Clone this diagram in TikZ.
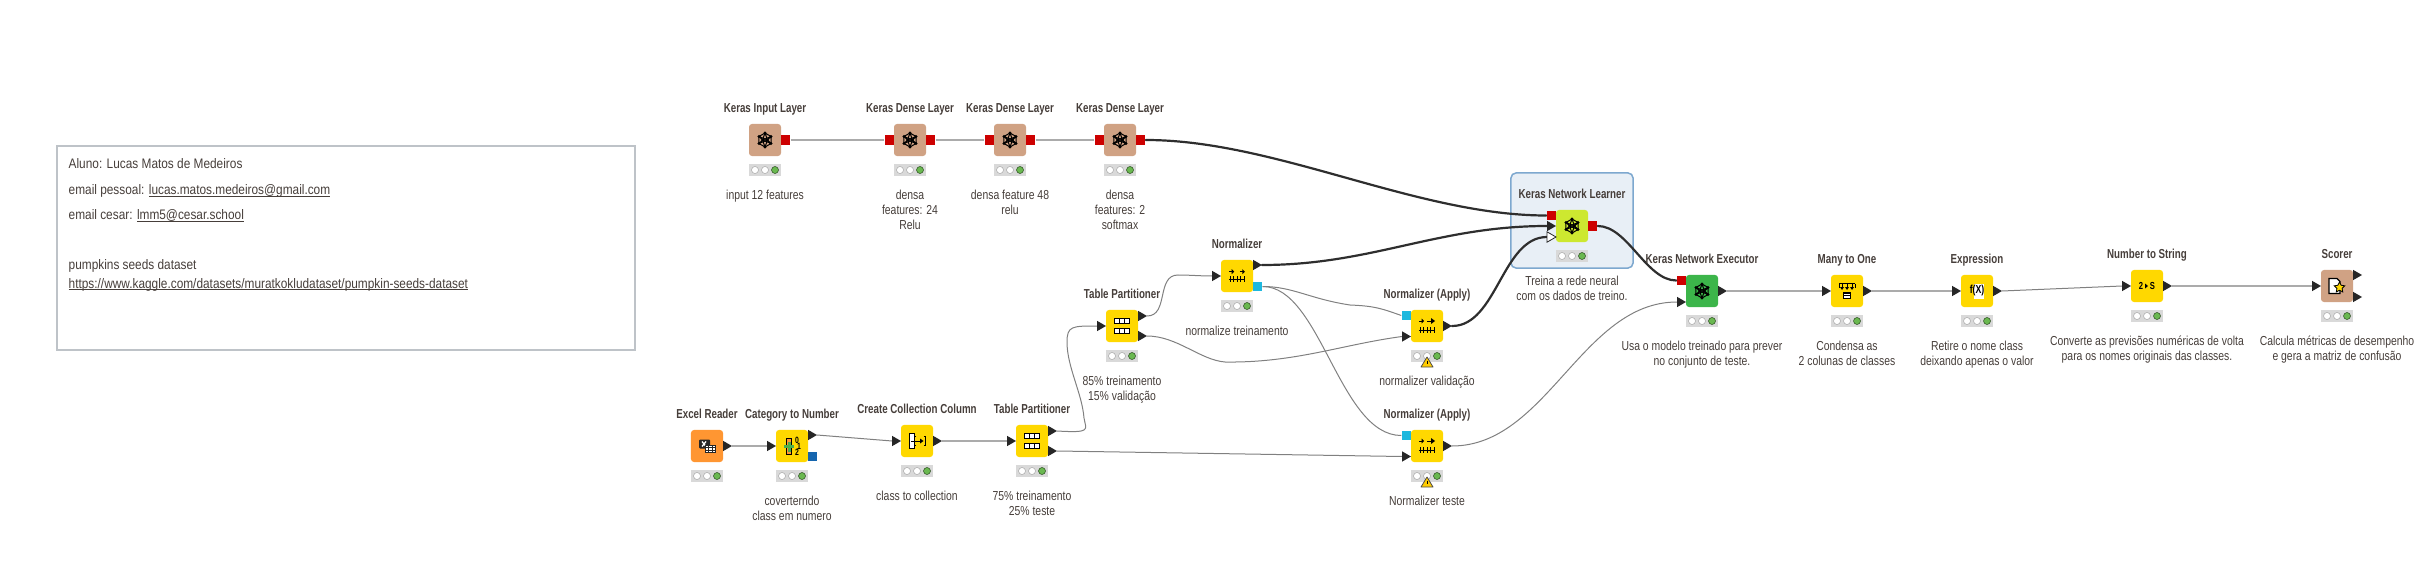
\documentclass[tikz,border=0pt]{standalone}
\usepackage{fontspec}
\setmainfont{Liberation Sans}[FakeStretch=0.8,BoldFeatures={FakeStretch=0.75}]
\newfontfamily\infofont{Liberation Sans}[FakeStretch=0.86]
\newcommand{\ulink}[1]{\setbox0\hbox{#1}\rlap{\rule[-0.4pt]{\wd0}{0.2pt}}\box0}
\usetikzlibrary{calc,backgrounds,shapes.geometric}
\definecolor{knyellow}{RGB}{255,216,0}
\definecolor{knbrown}{RGB}{208,162,132}
\definecolor{knorange}{RGB}{255,150,50}
\definecolor{knlime}{RGB}{205,232,48}
\definecolor{kngreen}{RGB}{60,181,74}
\definecolor{knred}{RGB}{205,0,0}
\definecolor{knblue}{RGB}{21,101,174}
\definecolor{kncyan}{RGB}{30,184,222}
\definecolor{kndark}{RGB}{38,38,38}
\definecolor{kntext}{RGB}{70,62,58}
\definecolor{knlamp}{RGB}{106,184,80}
\definecolor{knsel}{RGB}{232,239,246}
\definecolor{knseledge}{RGB}{125,168,207}
\definecolor{kninfoedge}{RGB}{190,195,200}
\tikzset{
  kbox/.style={rectangle, rounded corners=0.3mm, minimum size=3.2mm, inner sep=0pt},
  kyellow/.style={kbox, fill=knyellow},
  kbrown/.style ={kbox, fill=knbrown},
  korange/.style={kbox, fill=knorange},
  klime/.style  ={kbox, fill=knlime},
  kgreen/.style ={kbox, fill=kngreen},
  rport/.style={rectangle, fill=knred,  minimum size=0.9mm, inner sep=0pt},
  bport/.style={rectangle, fill=knblue, minimum size=0.9mm, inner sep=0pt},
  cport/.style={rectangle, fill=kncyan, minimum size=0.9mm, inner sep=0pt},
  dport/.style={isosceles triangle, isosceles triangle apex angle=60, fill=kndark,
                minimum height=0.9mm, minimum width=0.9mm, inner sep=0pt, outer sep=0pt,
                anchor=lower side},
  hport/.style={dport, fill=white, draw=kndark, line width=0.08mm},
  ktitle/.style={font=\fontsize{3.7}{4.27}\selectfont\bfseries, text=kntext, anchor=base, inner sep=0pt},
  knote/.style ={font=\fontsize{3.7}{4.27}\selectfont, text=kntext, align=center, anchor=north, inner sep=0pt},
  kinfo/.style ={font=\infofont\fontsize{3.92}{4.27}\selectfont, text=kntext, anchor=base west, inner sep=0pt},
  kstatus/.style={rectangle, fill=black!15, minimum width=3.2mm, minimum height=1.2mm, inner sep=0pt},
  klamp/.style={circle, draw=black!35, fill=white, line width=0.05mm, minimum size=0.7mm, inner sep=0pt},
  klampon/.style={klamp, draw=black!60!knlamp, fill=knlamp},
  kwire/.style={line width=0.16mm, black!33},
  kthin/.style={line width=0.1mm, black!50},
  kheavy/.style={line width=0.22mm, black!82, line cap=round},
  kglyph/.style={line width=0.1mm, black},
  netglyph/.pic={
    \foreach \a in {30,90,...,330} {
      \fill (\a:7) circle (1.6);
      \draw[kglyph] (\a:7) -- (\a+60:7) (\a:7) -- (-2.5,0) (\a:7) -- (2.5,0);}
    \fill (-2.5,0) circle (1.5) (2.5,0) circle (1.5);
  },
  xlsglyph/.pic={
    \fill[kndark, rounded corners=0.1mm] (-8,-6.5) rectangle (3,2.5);
    \draw[white, line width=0.13mm] (-5,-4.5) -- (-1,0.5) (-1,-4.5) -- (-5,0.5);
    \fill[white] (-1.3,-1) rectangle (8,6.7);
    \draw[kndark, line width=0.08mm] (-1.3,-1) rectangle (8,6.7) (1.8,-1) -- (1.8,6.7)
      (4.9,-1) -- (4.9,6.7) (-1.3,1.5) -- (8,1.5) (-1.3,4.1) -- (8,4.1);
  },
  catglyph/.pic={
    \draw[kglyph, fill=knorange] (-5.5,-7.5) rectangle (-0.5,8);
    \draw[line width=0.3mm, green!55!black!70] (-8,0.5) -- (2,0.5) (-3,-4.5) -- (-3,5.5);
    \node[font=\fontsize{2.6}{3}\selectfont\bfseries, inner sep=0pt] (cg0) at (5,-6) {0};
    \node[font=\fontsize{2.6}{3}\selectfont\bfseries, inner sep=0pt] (cg1) at (7,0) {1};
    \node[font=\fontsize{2.6}{3}\selectfont\bfseries, inner sep=0pt] (cg2) at (5,6) {2};
  },
  collglyph/.pic={
    \draw[kglyph, fill=white] (-7.5,-7.5) rectangle (-2.3,7.5);
    \draw[kglyph] (-1,-4.5) -- (-2.2,-4.5) -- (-2.2,4.5) -- (-1,4.5)
      (6.8,-4.5) -- (8,-4.5) -- (8,4.5) -- (6.8,4.5) (-6,0) -- (5,0);
    \fill (6.5,0) -- (3,-2.5) -- (3,2.5) -- cycle;
  },
  partglyph/.pic={
    \foreach \y in {-7.5,2.5} {
      \draw[line width=0.13mm, fill=white] (-7.7,\y) rectangle (7.7,\y+5);
      \draw[line width=0.13mm] (-2.6,\y) -- (-2.6,\y+5) (2.6,\y) -- (2.6,\y+5);}
  },
  rulerglyph/.pic={
    \draw[line width=0.08mm] (-8,0) -- (8,0);
    \foreach \x in {-7,-3.5,0,3.5,7} {\draw[line width=0.07mm] (\x,-2.6) -- (\x,2.6);}
  },
  normglyph/.pic={
    \pic at (0,3) {rulerglyph};
    \foreach \x in {-5.3,5.3} {
      \draw[line width=0.08mm] (\x-2.5,-4.3) -- (\x+1,-4.3);
      \fill (\x+2.5,-4.3) -- (\x,-6.8) -- (\x,-1.8) -- cycle;}
  },
  applyglyph/.pic={
    \pic at (0,4) {rulerglyph};
    \draw[line width=0.08mm] (-8,-5) -- (-4,-5) (0,-5) -- (5,-5);
    \fill (-3,-5) -- (-5.5,-7.5) -- (-5.5,-2.5) -- cycle (8,-5) -- (4,-8) -- (4,-2) -- cycle;
  },
  manyglyph/.pic={
    \draw[line width=0.13mm] (-8,-7.5) -- (8,-7.5);
    \foreach \x in {-5,0,5} {
      \draw[kglyph] (\x,-7.5) -- (\x,-3);
      \fill (\x,-1) -- (\x-2,-4) -- (\x+2,-4) -- cycle;}
    \draw[kglyph] (-8,-7.5) -- (-8,-3) (8,-7.5) -- (8,-3);
    \draw[kglyph, fill=white] (-3.5,2) rectangle (3.5,7.7);
    \draw[kglyph] (-3.5,4.5) -- (3.5,4.5);
  },
  exprglyph/.pic={
    \fill[white] (-3,-7.5) rectangle (6.5,7.5);
    \node[font=\fontsize{3.3}{4}\selectfont\bfseries, inner sep=0pt] (eg) at (0,0) {f(X)};
  },
  nsglyph/.pic={
    \node[font=\fontsize{2.9}{3}\selectfont\bfseries, inner sep=0pt] (ng2) at (-6,0) {2};
    \node[font=\fontsize{2.9}{3}\selectfont\bfseries, inner sep=0pt] (ngs) at (5.3,0) {S};
    \fill (1,0) -- (-2,-2.5) -- (-2,2.5) -- cycle;
  },
  scoreglyph/.pic={
    \draw[line width=0.13mm, fill=white] (-8,-7.5) -- (0,-7.5) -- (3,-4.5) -- (3,7.5) -- (-8,7.5) -- cycle;
    \node[star, star points=5, star point ratio=2, fill=knyellow, draw=black, line width=0.08mm,
          minimum size=1.1mm, inner sep=0pt] (sg) at (2.5,1.5) {};
  },
  warnglyph/.pic={
    \draw[line width=0.08mm, draw=black!70, fill=knyellow!85!orange, line join=round] (-6,5) -- (0,-5) -- (6,5) -- cycle;
    \draw[line width=0.07mm] (0,-1.5) -- (0,2);
  },
}

\begin{document}
\begin{tikzpicture}[x=0.01cm, y=-0.01cm]
  \path[use as bounding box] (0,0) rectangle (2436,573);
  % note on the left
  \node[rectangle, draw=kninfoedge, line width=0.2mm, minimum width=57.8mm, minimum height=20.4mm] (info) at (346,248) {};
  \node[kinfo] (alu) at (68,169) {Aluno: Lucas Matos de Medeiros};
  \node[kinfo] (eml) at (68,195) {email pessoal: \ulink{lucas.matos.medeiros@gmail.com}};
  \node[kinfo] (emc) at (68,220) {email cesar: \ulink{lmm5@cesar.school}};
  \node[kinfo] (dat) at (68,269.5) {pumpkins seeds dataset};
  \node[kinfo] (url) at (68,288.5) {\ulink{https://www.kaggle.com/datasets/muratkokludataset/pumpkin-seeds-dataset}};
  % workflow nodes
  \foreach \nm/\x/\y/\sty/\ttl in {
    kin/765/140/kbrown/{Keras Input Layer}, kda/910/140/kbrown/{Keras Dense Layer},
    kdb/1010/140/kbrown/{Keras Dense Layer}, kdc/1120/140/kbrown/{Keras Dense Layer},
    lrn/1572/226/klime/{Keras Network Learner}, exe/1702/291/kgreen/{Keras Network Executor},
    m2o/1847/291/kyellow/{Many to One}, fxp/1977/291/kyellow/{Expression},
    n2s/2147/286/kyellow/{Number to String}, scr/2337/286/kbrown/{Scorer},
    xls/707/446/korange/{Excel Reader}, c2n/792/446/kyellow/{Category to Number},
    ccc/917/441/kyellow/{Create Collection Column}, tpa/1032/441/kyellow/{Table Partitioner},
    tpb/1122/326/kyellow/{Table Partitioner}, nrm/1237/276/kyellow/{Normalizer},
    apa/1427/326/kyellow/{Normalizer (Apply)}, apb/1427/446/kyellow/{Normalizer (Apply)}} {
    \node[\sty] (\nm) at (\x,\y) {};
    \node[ktitle] (\nm-tl) at (\x,\y-27.5) {\ttl};
    \node[kstatus] (\nm-st) at (\x,\y+30) {};
    \node[klamp] (\nm-la) at (\x-10,\y+30) {};
    \node[klamp] (\nm-lb) at (\x,\y+30) {};
    \node[klampon] (\nm-lc) at (\x+10,\y+30) {};
  }
  \foreach \nm/\gly in {kin/netglyph, kda/netglyph, kdb/netglyph, kdc/netglyph, lrn/netglyph, exe/netglyph,
    m2o/manyglyph, fxp/exprglyph, n2s/nsglyph, scr/scoreglyph, xls/xlsglyph, c2n/catglyph, ccc/collglyph,
    tpa/partglyph, tpb/partglyph, nrm/normglyph, apa/applyglyph, apb/applyglyph} {
    \pic at (\nm) {\gly};
  }
  \pic at ($(apa)+(0,36)$) {warnglyph};
  \pic at ($(apb)+(0,36)$) {warnglyph};
  % notes under the nodes
  \foreach \nm/\lbl in {
    kin/{input 12 features}, kda/{densa\\features: 24\\Relu}, kdb/{densa feature 48\\relu},
    kdc/{densa\\features: 2\\softmax}, lrn/{Treina a rede neural\\com os dados de treino.},
    exe/{Usa o modelo treinado para prever\\no conjunto de teste.},
    m2o/{Condensa as\\2 colunas de classes}, fxp/{Retire o nome class\\deixando apenas o valor},
    n2s/{Converte as previsões numéricas de volta\\para os nomes originais das classes.},
    scr/{Calcula métricas de desempenho\\e gera a matriz de confusão},
    c2n/{coverterndo\\class em numero}, ccc/{class to collection},
    tpa/{75\% treinamento\\25\% teste}, tpb/{85\% treinamento\\15\% validação},
    nrm/{normalize treinamento}, apa/{normalizer validação}, apb/{Normalizer teste}} {
    \node[knote] (\nm-nt) at ($(\nm)+(0,48.5)$) {\rule{0pt}{2.9pt}\lbl};
  }
  % ports
  \foreach \nm/\pn/\dx/\dy/\sty in {
    kin/O/20.5/0/rport, kda/I/-20.5/0/rport, kda/O/20.5/0/rport, kdb/I/-20.5/0/rport, kdb/O/20.5/0/rport,
    kdc/I/-20.5/0/rport, kdc/O/20.5/0/rport, lrn/A/-20.5/-10.5/rport, lrn/B/-25/0/dport, lrn/C/-25/11/hport,
    lrn/O/20.5/0/rport, exe/A/-20.5/-10.5/rport, exe/B/-25/11/dport, exe/O/16/0/dport,
    m2o/I/-25/0/dport, m2o/O/16/0/dport, fxp/I/-25/0/dport, fxp/O/16/0/dport,
    n2s/I/-25/0/dport, n2s/O/16/0/dport, scr/I/-25/0/dport, scr/P/16/-11/dport, scr/Q/16/11/dport,
    xls/O/16/0/dport, c2n/I/-25/0/dport, c2n/O/16/-11/dport, c2n/M/20.5/10.5/bport,
    ccc/I/-25/0/dport, ccc/O/16/0/dport, tpa/I/-25/0/dport, tpa/P/16/-10/dport, tpa/Q/16/10/dport,
    tpb/I/-25/0/dport, tpb/P/16/-10/dport, tpb/Q/16/10/dport,
    nrm/I/-25/0/dport, nrm/O/16/-11/dport, nrm/M/20.5/10.5/cport,
    apa/M/-20.5/-10.5/cport, apa/I/-25/10.5/dport, apa/O/16/0/dport,
    apb/M/-20.5/-10.5/cport, apb/I/-25/10.5/dport, apb/O/16/0/dport} {
    \node[\sty] (\nm\pn) at ($(\nm)+(\dx,\dy)$) {};
  }
  \begin{scope}[on background layer]
    \node[rectangle, rounded corners=0.5mm, draw=knseledge, fill=knsel, line width=0.15mm,
          minimum width=12.2mm, minimum height=9.5mm] (sel) at (1572,220.5) {};
    % straight wires
    \draw[kwire] (kinO.east) -- (kdaI.west);
    \draw[kwire] (kdaO.east) -- (kdbI.west);
    \draw[kwire] (kdbO.east) -- (kdcI.west);
    \draw[kwire] (xlsO.apex) -- (c2nI.lower side);
    \draw[kwire] (cccO.apex) -- (tpaI.lower side);
    \draw[kwire] (exeO.apex) -- (m2oI.lower side);
    \draw[kwire] (m2oO.apex) -- (fxpI.lower side);
    \draw[kwire] (n2sO.apex) -- (scrI.lower side);
    \draw[kthin] (c2nO.apex) -- (cccI.lower side);
    \draw[kthin] (fxpO.apex) -- (n2sI.lower side);
    \draw[kthin] (tpaQ.apex) -- (apbI.lower side);
    % heavy keras wires
    \draw[kheavy] (kdcO.east) .. controls +(130,0) and +(-130,0) .. (lrnA.west);
    \draw[kheavy] (nrmO.apex) .. controls +(110,0) and +(-110,0) .. (lrnB.lower side);
    \draw[kheavy] (apaO.apex) .. controls +(45,0) and +(-45,0) .. (lrnC.lower side);
    \draw[kheavy] (lrnO.east) .. controls +(30,0) and +(-30,0) .. (exeA.west);
    % thin curved wires
    \coordinate (lpa) at (1084,418);
    \coordinate (lpb) at (1067,342);
    \draw[kthin] (tpaP.apex) .. controls +(35,2) and +(2,12) .. (lpa)
      .. controls +(-2,-25) and +(0,25) .. (lpb) .. controls +(0,-16) and +(-25,0) .. (tpbI.lower side);
    \coordinate (tpt) at (1178,275);
    \draw[kthin] (tpbP.apex) .. controls +(22,0) and +(-22,0) .. (tpt) .. controls +(12,0) and +(-12,0) .. (nrmI.lower side);
    \coordinate (vlw) at (1225,362);
    \draw[kthin] (tpbQ.apex) .. controls +(30,0) and +(-25,-2) .. (vlw) .. controls +(70,1) and +(-60,8) .. (apaI.lower side);
    \coordinate (nmd) at (1350,305);
    \draw[kthin] (nrmM.east) .. controls +(30,0) and +(-40,-6) .. (nmd) .. controls +(25,1) and +(-20,-7) .. (apaM.west);
    \draw[kthin] (nrmM.east) .. controls +(58,0) and +(-62,0) .. (apbM.west);
    \draw[kthin] (apbO.apex) .. controls +(95,0) and +(-95,0) .. (exeB.lower side);
  \end{scope}
\end{tikzpicture}
\end{document}
